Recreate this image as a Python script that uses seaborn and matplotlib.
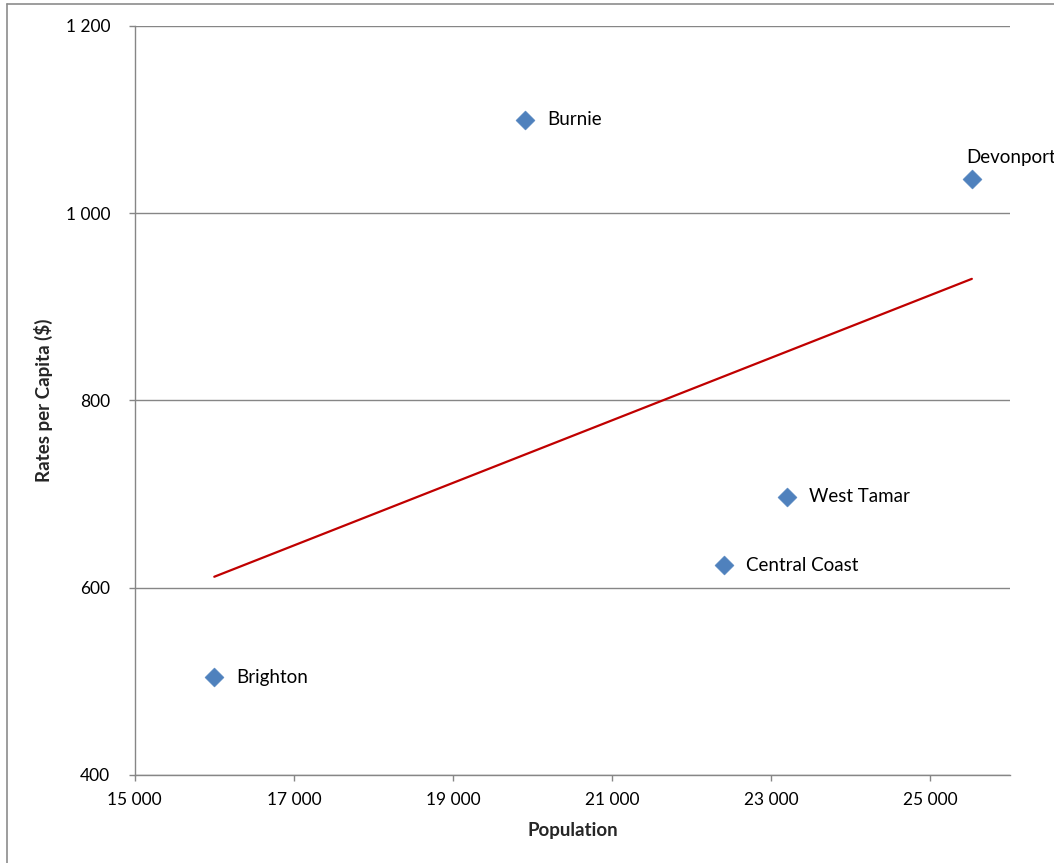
import matplotlib
matplotlib.use("Agg")
import matplotlib.pyplot as plt
from matplotlib.lines import Line2D
from matplotlib.ticker import FuncFormatter, FixedLocator, MultipleLocator
import seaborn as sns
import pandas as pd

# Council population vs rates per capita
councils = ["Brighton", "Burnie", "Central Coast", "West Tamar", "Devonport"]
population = [16000, 19900, 22400, 23200, 25520]
rates_per_capita = [504, 1100, 624, 697, 1036]
x_ticks = [15000, 17000, 19000, 21000, 23000, 25000]

df = pd.DataFrame({"council": councils, "population": population, "rates": rates_per_capita})

sns.set_style("white")
plt.rcParams["font.family"] = ["Lato", "DejaVu Sans"]

fig = plt.figure(figsize=(10.54, 8.63), dpi=100)
ax = fig.add_axes([0.1278, 0.1023, 0.9583 - 0.1278, 0.9699 - 0.1023])

axis_grey = "#868686"

# linear trend line over the data range
sns.regplot(data=df, x="population", y="rates", scatter=False, ci=None,
            color="#c00000", line_kws={"linewidth": 1.6, "zorder": 2}, ax=ax)

sns.scatterplot(data=df, x="population", y="rates", marker="D", s=95,
                color="#4f81bd", edgecolor="#4f81bd", linewidth=0.3, zorder=3, ax=ax)

for name, xv, yv in zip(councils, population, rates_per_capita):
    if name == "Devonport":
        ax.annotate(name, (xv, yv), xytext=(-4, 10), textcoords="offset points",
                    ha="left", va="bottom", fontsize=13.5, color="#000000",
                    annotation_clip=False, clip_on=False)
    else:
        ax.annotate(name, (xv, yv), xytext=(16, 0), textcoords="offset points",
                    ha="left", va="center", fontsize=13.5, color="#000000")

ax.set_xlim(15000, 26000)
ax.set_ylim(400, 1200)
ax.xaxis.set_major_locator(FixedLocator(x_ticks))
ax.yaxis.set_major_locator(MultipleLocator(200))

fmt = FuncFormatter(lambda v, p: f"{int(round(v)):,}".replace(",", " "))
ax.xaxis.set_major_formatter(fmt)
ax.yaxis.set_major_formatter(fmt)

ax.grid(axis="y", color=axis_grey, linewidth=1.0)
ax.grid(axis="x", visible=False)
ax.set_axisbelow(True)

for side in ["top", "right"]:
    ax.spines[side].set_visible(False)
for side in ["left", "bottom"]:
    ax.spines[side].set_color(axis_grey)
    ax.spines[side].set_linewidth(1.0)

ax.tick_params(axis="both", which="major", direction="out", length=4.5, width=1.0,
               color=axis_grey, labelsize=12.5, labelcolor="#000000")
ax.tick_params(axis="x", pad=8, bottom=True)
ax.tick_params(axis="y", pad=13, left=True)

ax.set_xlabel("Population", fontsize=13.5, fontweight="bold", labelpad=10)
ax.set_ylabel("Rates per Capita ($)", fontsize=13.5, fontweight="bold", labelpad=9)

# chart frame
fig.add_artist(Line2D([7 / 1054, 7 / 1054], [0, 1 - 4 / 863], color="#8c8c8c",
                      linewidth=1.2, transform=fig.transFigure))
fig.add_artist(Line2D([7 / 1054, 1], [1 - 4 / 863, 1 - 4 / 863], color="#8c8c8c",
                      linewidth=1.2, transform=fig.transFigure))

fig.savefig("out.png", dpi=100)
